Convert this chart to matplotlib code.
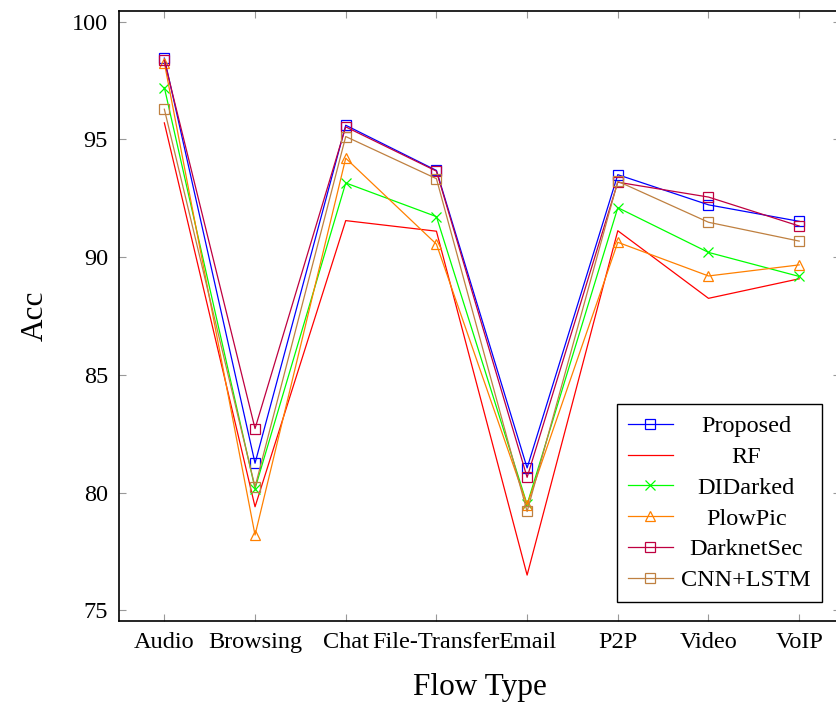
import matplotlib
matplotlib.use("Agg")
import matplotlib.pyplot as plt

plt.rcParams["font.family"] = ["Liberation Serif", "DejaVu Serif"]

# Accuracy per flow type
flow_types = ["Audio", "Browsing", "Chat", "File-Transfer", "Email", "P2P", "Video", "VoIP"]
proposed = [98.45, 81.25, 95.6, 93.68, 81.05, 93.5, 92.22, 91.52]
rf = [95.7, 79.4, 91.55, 91.1, 76.5, 91.12, 88.25, 89.08]
didarked = [97.2, 80.17, 93.15, 91.72, 79.5, 92.1, 90.2, 89.18]
plowpic = [98.25, 78.2, 94.2, 90.55, 79.48, 90.63, 89.2, 89.67]
darknetsec = [98.35, 82.72, 95.53, 93.65, 80.65, 93.18, 92.55, 91.32]
cnn_lstm = [96.28, 80.24, 95.12, 93.33, 79.2, 93.22, 91.48, 90.68]

series = [
    ("Proposed", proposed, (0, 0, 1), "s"),
    ("RF", rf, (1, 0, 0), None),
    ("DIDarked", didarked, (0, 1, 0), "x"),
    ("PlowPic", plowpic, (1, 0.5, 0), "^"),
    ("DarknetSec", darknetsec, (0.75, 0, 0.25), "s"),
    ("CNN+LSTM", cnn_lstm, (0.75, 0.5, 0.25), "s"),
]

fig = plt.figure(figsize=(8.36, 7.02), dpi=100)
ax = fig.add_axes([119 / 836, 1 - 621 / 702, (840 - 119) / 836, (621 - 11) / 702])

x = list(range(len(flow_types)))
for name, vals, color, marker in series:
    if marker is None:
        ax.plot(x, vals, color=color, lw=0.9, label=name)
    else:
        ax.plot(x, vals, color=color, lw=0.9, marker=marker,
                markersize=7.5 if marker == "s" else 6.5,
                markerfacecolor="none", markeredgecolor=color,
                markeredgewidth=0.9, label=name)

ax.set_xlim(-0.5, 7.45)
ax.set_ylim(74.55, 100.45)
ax.set_xticks(x)
ax.set_xticklabels(flow_types)
ax.set_yticks([75, 80, 85, 90, 95, 100])
ax.tick_params(direction="in", length=5, width=0.8, color="0.6",
               labelsize=17.5, top=True, right=True, pad=8)
for sp in ax.spines.values():
    sp.set_linewidth(1.2)
    sp.set_color("black")

ax.set_xlabel("Flow Type", fontsize=22.5, labelpad=14)
ax.set_ylabel("Acc", fontsize=22.5, labelpad=16)

leg = ax.legend(loc="lower right", bbox_to_anchor=((822 - 119) / 721, (621 - 602) / 610),
                fontsize=17.5, fancybox=False, edgecolor="black", framealpha=1,
                handlelength=1.85, labelspacing=0.36, borderpad=0.45,
                handletextpad=0.35, borderaxespad=0)
leg.get_frame().set_linewidth(1.0)

# pgfplots centres the legend labels: redraw them centred in the text column
fig.canvas.draw()
renderer = fig.canvas.get_renderer()
texts = leg.get_texts()
boxes = [t.get_window_extent(renderer) for t in texts]
left = min(b.x0 for b in boxes)
right = max(b.x1 for b in boxes)
cx = (left + right) / 2
for t, b in zip(texts, boxes):
    t.set_visible(False)
    fig.text(cx / fig.dpi / fig.get_figwidth(), (b.y0 + b.y1) / 2 / fig.dpi / fig.get_figheight(),
             t.get_text(), ha="center", va="center", fontsize=17.5)

fig.savefig("out.png", dpi=100)
